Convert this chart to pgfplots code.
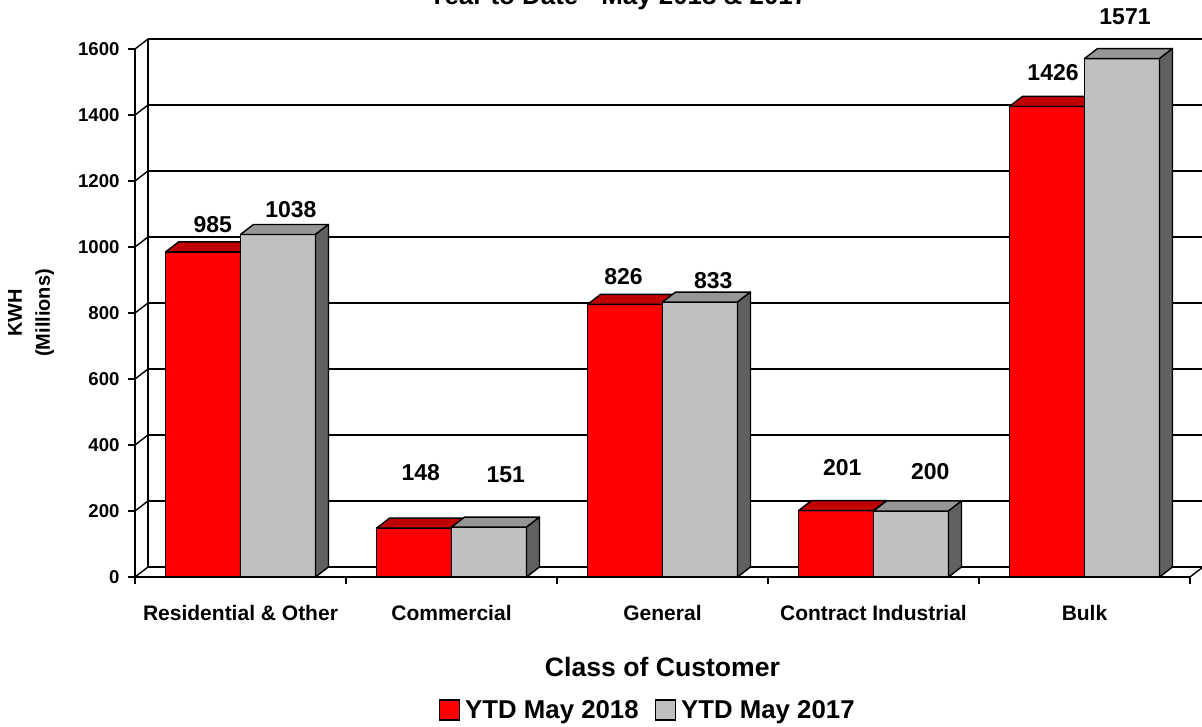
\documentclass[border=0pt]{standalone}
\usepackage{pgfplots}
\pgfplotsset{compat=1.18}
\usepackage{pgfplotstable}
\usepackage{fontspec}
\setmainfont{Liberation Sans}
\definecolor{redfront}{HTML}{FF0000}
\definecolor{redtop}{HTML}{C00000}
\definecolor{redside}{HTML}{800000}
\definecolor{grayfront}{HTML}{C0C0C0}
\definecolor{graytop}{HTML}{969696}
\definecolor{grayside}{HTML}{606060}
\pgfdeclareplotmark{blank3d}{}

\pgfplotstableread{
x v2018 v2017
0 985 1038
1 148 151
2 826 833
3 201 200
4 1426 1571
}\kwh

\pgfplotstableread{
x y v
-0.131 1067 985
0.239 1112 1038
0.854 315 148
1.257 309 151
1.815 909 826
2.241 897 833
2.852 333 201
3.269 318 200
3.851 1527 1426
4.192 1697 1571
}\vlabels

\begin{document}
\begin{tikzpicture}[x=1pt,y=1pt]
\useasboundingbox (0,0) rectangle (1202,727);
% back wall
\begin{axis}[
  at={(148pt,160pt)}, anchor=south west, scale only axis,
  width=1055pt, height=528pt,
  xmin=-0.5, xmax=4.5, ymin=0, ymax=1600,
  hide x axis, axis y line*=left, axis line style={-, line width=1.4pt},
  ytick={0,200,...,1600}, yticklabels={}, major tick length=0pt,
  ymajorgrids, grid style={black, line width=1.4pt},
]
\end{axis}
% front
\begin{axis}[
  at={(135pt,150pt)}, anchor=south west, scale only axis,
  width=1055pt, height=528pt,
  xmin=-0.5, xmax=4.5, ymin=0, ymax=1600, clip=false, clip marker paths=true,
  axis lines*=left, axis line style={-, line width=1.4pt},
  tick style={black, line width=1.4pt}, tick align=outside, major tick length=7pt,
  ytick={0,200,...,1600},
  xtick={-0.5,0.5,1.5,2.5,3.5,4.5}, x tick label as interval,
  xticklabels={Residential \& Other, Commercial, General, Contract Industrial, Bulk},
  /pgf/number format/assume math mode=true,
  /pgf/number format/1000 sep={},
  yticklabel style={font=\fontsize{18.6}{22}\selectfont\bfseries, xshift=-5pt},
  xticklabel style={font=\fontsize{21}{25}\selectfont\bfseries, yshift=-18pt},
  xlabel={Class of Customer},
  xlabel style={at={(axis description cs:0.5,-0.1705)}, anchor=center, font=\fontsize{26.6}{30}\selectfont\bfseries},
  ylabel={KWH\\(Millions)},
  ylabel style={at={(axis description cs:-0.0986,0.5)}, anchor=center, align=center, font=\fontsize{20}{28}\selectfont\bfseries},
  legend style={at={(0.486,-0.252)}, anchor=center, draw=none, legend columns=2,
    font=\fontsize{25.8}{30}\selectfont\bfseries,
    /tikz/every odd column/.append style={column sep=3pt},
    /tikz/every even column/.append style={column sep=14pt}},
  legend image code/.code={\draw[#1] (0pt,-10pt) rectangle (20pt,10pt);},
]
\pgfplotsinvokeforeach{0,200,...,1600}{
  \draw[line width=1.4pt] (axis cs:-0.5,#1) -- ++(13pt,10pt);
}
\draw[line width=1.4pt] (axis cs:4.5,0) -- ++(13pt,10pt);

\addplot[ybar, bar width=75pt, bar shift=-37.5pt, fill=redfront, draw=black, line width=1.4pt]
  table[x=x, y=v2018] \kwh;
\addlegendentry{YTD May 2018}
\addplot[forget plot, scatter, only marks, mark=blank3d,
  visualization depends on={rawy \as \barval},
  scatter/@pre marker code/.code={%
    \pgfmathsetlengthmacro\barh{\barval*0.33pt}%
    \filldraw[fill=redtop, draw=black, line width=1.4pt, line join=round] (-75pt,0pt) -- (0pt,0pt) -- (13pt,10pt) -- (-62pt,10pt) -- cycle;
    \filldraw[fill=redside, draw=black, line width=1.4pt, line join=round] (0pt,0pt) -- (13pt,10pt) -- (13pt,{10pt-\barh}) -- (0pt,{-\barh}) -- cycle;
  },
  scatter/@post marker code/.code={},
] table[x=x, y=v2018] \kwh;

\addplot[ybar, bar width=75pt, bar shift=37.5pt, fill=grayfront, draw=black, line width=1.4pt]
  table[x=x, y=v2017] \kwh;
\addlegendentry{YTD May 2017}
\addplot[forget plot, scatter, only marks, mark=blank3d,
  visualization depends on={rawy \as \barval},
  scatter/@pre marker code/.code={%
    \pgfmathsetlengthmacro\barh{\barval*0.33pt}%
    \filldraw[fill=graytop, draw=black, line width=1.4pt, line join=round] (0pt,0pt) -- (75pt,0pt) -- (88pt,10pt) -- (13pt,10pt) -- cycle;
    \filldraw[fill=grayside, draw=black, line width=1.4pt, line join=round] (75pt,0pt) -- (88pt,10pt) -- (88pt,{10pt-\barh}) -- (75pt,{-\barh}) -- cycle;
  },
  scatter/@post marker code/.code={},
] table[x=x, y=v2017] \kwh;

\addplot[forget plot, draw=none, mark=none, nodes near coords, point meta=explicit symbolic,
  every node near coord/.append style={anchor=center, inner sep=0pt, font=\fontsize{23}{27}\selectfont\bfseries}]
  table[x=x, y=y, meta=v] \vlabels;
\end{axis}
\node[anchor=base, font=\fontsize{25.9}{30}\selectfont\bfseries] at (618,722) {Year to Date - May 2018 \& 2017};
\end{tikzpicture}
\end{document}
